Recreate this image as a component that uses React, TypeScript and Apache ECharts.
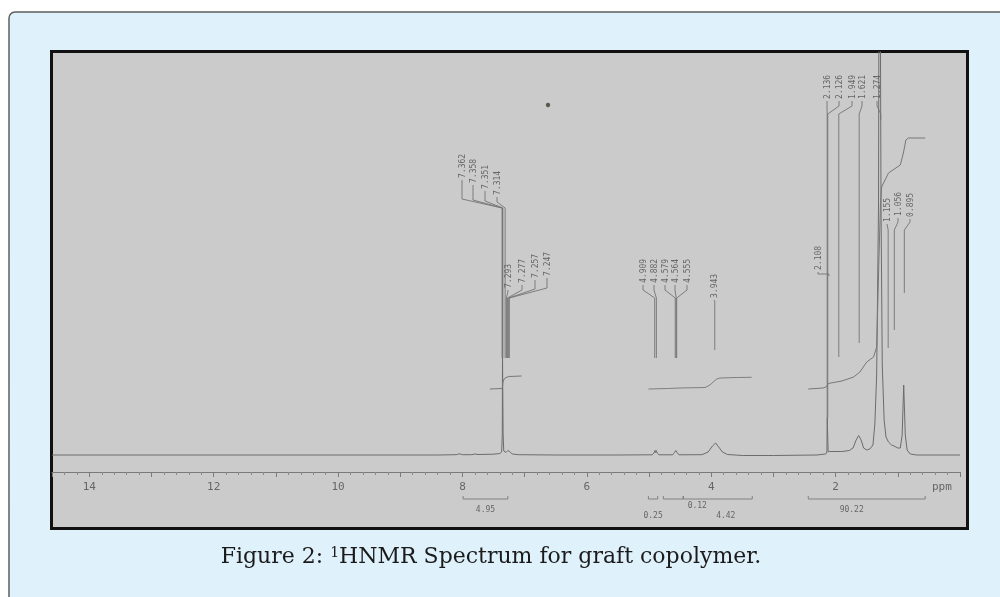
import React, { useEffect, useRef } from 'react';
import * as echarts from 'echarts';

// ---- spectrum trace (ppm, intensity in arbitrary units) ----
const spectrumPpm = [
  14.6, 8.4, 8.1, 8.05, 8.0, 7.85, 7.8, 7.75, 7.5, 7.4, 7.37, 7.36, 7.356, 7.35, 7.346, 7.336,
  7.3, 7.27, 7.24, 7.2, 7.1, 6.5, 5.5, 4.95, 4.92, 4.905, 4.895, 4.885, 4.87, 4.84, 4.62, 4.59,
  4.57, 4.55, 4.52, 4.15, 4.05, 3.98, 3.93, 3.88, 3.82, 3.74, 3.5, 3.0, 2.3, 2.16, 2.14, 2.135,
  2.125, 2.12, 2.1, 1.9, 1.78, 1.72, 1.67, 1.63, 1.59, 1.55, 1.5, 1.45, 1.4, 1.37, 1.34, 1.31,
  1.295, 1.285, 1.27, 1.25, 1.22, 1.19, 1.15, 1.1, 1.06, 1.0, 0.96, 0.93, 0.905, 0.895, 0.88,
  0.85, 0.8, 0.7, 0.0,
];
const spectrumIntensity = [
  0, 0, 0.3, 1.2, 0.3, 0.3, 1, 0.5, 0.8, 1.5, 3, 20, 97, 97, 20, 4,
  2.5, 4.5, 3.5, 1, 0.3, 0, 0, 0.2, 2, 4.5, 2.5, 4.5, 2, 0.2, 0.2, 2.5,
  4.5, 2.5, 0.2, 0.3, 3, 9, 12, 8, 3, 0.5, -0.5, -0.5, 0, 1, 3, 37,
  37, 3, 3.5, 3.5, 4.5, 7, 15, 19.5, 15, 7, 5, 6, 10, 30, 80, 250,
  700, 700, 250, 90, 35, 18, 13, 10, 9, 7, 7, 20, 70, 70, 20,
  5, 1, 0, 0,
];

// ---- integral traces ----
const aromaticIntegralPpm = [7.56, 7.36, 7.35, 7.33, 7.3, 7.25, 7.05];
const aromaticIntegralValue = [66, 66.5, 73, 76, 77.5, 78.5, 79];
const oxyIntegralPpm = [5.01, 4.7, 4.5, 4.1, 4.02, 3.96, 3.91, 3.86, 3.6, 3.35];
const oxyIntegralValue = [66, 66.5, 67, 67.5, 70, 73.5, 76, 77, 77.5, 77.7];
const aliphaticIntegralPpm = [2.44, 2.2, 2.14, 2.12, 1.9, 1.71, 1.61, 1.5, 1.39, 1.34, 1.31, 1.28, 1.26, 1.15, 0.96, 0.91, 0.87, 0.83, 0.56];
const aliphaticIntegralValue = [66, 67, 68.5, 71.5, 74, 78, 83, 93, 98, 108, 180, 250, 268, 282, 290, 302, 315, 317, 317];

// ---- peak pick labels (chemical shifts, ppm) ----
const aromaticUpperShifts = [7.362, 7.358, 7.351, 7.314];
const aromaticLowerShifts = [7.293, 7.277, 7.257, 7.247];
const vinylShifts = [4.909, 4.882, 4.579, 4.564, 4.555];
const oxyShifts = [3.943];
const aliphaticUpperShifts = [2.136, 2.126, 1.949, 1.621, 1.274];
const aliphaticMidShifts = [2.108];
const aliphaticLowerShifts = [1.155, 1.056, 0.895];

// ---- integration values and their ranges (ppm) ----
const integralLabels = ['4.95', '0.25', '0.12', '4.42', '90.22'];
const integralFromPpm = [7.99, 5.01, 4.77, 4.45, 2.44];
const integralToPpm = [7.27, 4.86, 4.45, 3.34, 0.56];

// ---- axis ----
const axisMinPpm = 0;
const axisMaxPpm = 14.6;
const axisLabelPpm = [2, 4, 6, 8, 10, 12, 14];

// layout of the integral value texts (pixel offsets from the bracket centre)
const integralTextOffset = [
  [0, 10], [0, 16], [24, 6], [8, 16], [-15, 10],
];

// layout of the peak-pick label groups (pixels)
const labelLayouts = [
  { shifts: aromaticUpperShifts, slotX: [462, 473, 485, 497], textBottom: [178, 183, 189, 195], knee1: [199, 200, 201, 202], knee2: 208, endY: [358, 358, 358, 358] },
  { shifts: aromaticLowerShifts, slotX: [508, 522, 535, 547], textBottom: [288, 283, 278, 276], knee1: [291, 290, 289, 288], knee2: 298, endY: [358, 358, 358, 358] },
  { shifts: vinylShifts, slotX: [643, 654, 665, 675, 687], textBottom: [283, 283, 283, 283, 283], knee1: [290, 290, 290, 290, 290], knee2: 298, endY: [358, 358, 358, 358, 358] },
  { shifts: oxyShifts, slotX: [714], textBottom: [298], knee1: [300], knee2: 301, endY: [350] },
  { shifts: aliphaticUpperShifts, slotX: [827, 839, 852, 862, 877], textBottom: [99, 99, 99, 99, 99], knee1: [106, 106, 106, 106, 106], knee2: 114, endY: [418, 418, 357, 343, 120] },
  { shifts: aliphaticMidShifts, slotX: [818], textBottom: [270], knee1: [274], knee2: 274, endY: [276] },
  { shifts: aliphaticLowerShifts, slotX: [887, 898, 910], textBottom: [222, 216, 217], knee1: [224, 222, 222], knee2: 230, endY: [348, 330, 293] },
];

type LabelEntry = { ppm: number; text: string; slotX: number; textBottom: number; knee1: number; knee2: number; endY: number };
const labelEntries: LabelEntry[] = [];
labelLayouts.forEach((g) => {
  g.shifts.forEach((s, i) => {
    labelEntries.push({ ppm: s, text: s.toFixed(3), slotX: g.slotX[i], textBottom: g.textBottom[i], knee1: g.knee1[i], knee2: g.knee2, endY: g.endY[i] });
  });
});

const pair = (xs: number[], ys: number[]) => xs.map((x, i) => [x, ys[i]]);

export default function App() {
  const ref = useRef<HTMLDivElement>(null);
  useEffect(() => {
    if (!ref.current) return;
    const chart = echarts.init(ref.current, null, { renderer: 'svg' });
    const lineGray = '#6c6c6c';
    const textGray = '#666666';
    const mono = '"DejaVu Sans Mono", monospace';
    chart.setOption({
      animation: false,
      grid: { left: 52, right: 40, top: 52, bottom: 125, containLabel: false },
      xAxis: {
        type: 'value',
        inverse: true,
        min: axisMinPpm,
        max: axisMaxPpm,
        interval: 1,
        splitLine: { show: false },
        axisLine: { onZero: false, lineStyle: { color: '#7a7a7a', width: 1 } },
        axisTick: { show: true, length: 5, lineStyle: { color: '#7a7a7a' } },
        minorTick: { show: true, splitNumber: 5, length: 3, lineStyle: { color: '#8a8a8a' } },
        minorSplitLine: { show: false },
        axisLabel: {
          margin: 9,
          color: textGray,
          fontFamily: 'DejaVu Sans Mono',
          fontSize: 11,
          formatter: (v: number) => (axisLabelPpm.indexOf(v) >= 0 ? String(v) : ''),
        },
      },
      yAxis: { type: 'value', min: -17, max: 403, show: false },
      graphic: {
        elements: [
          { type: 'rect', z: -10, shape: { x: 9, y: 12, width: 1100, height: 700, r: 6 }, style: { fill: '#dff1fb', stroke: '#5f5f5f', lineWidth: 1.5 } },
          { type: 'rect', z: -9, shape: { x: 51.5, y: 51.5, width: 916, height: 477 }, style: { fill: '#cbcbcb', stroke: '#111111', lineWidth: 3 } },
          { type: 'circle', z: -8, shape: { cx: 548, cy: 105, r: 2.2 }, style: { fill: '#5a5a4a' } },
          { type: 'text', z: 5, x: 932, y: 486, style: { text: 'ppm', font: '11px "DejaVu Sans Mono"', fill: textGray, verticalAlign: 'middle' } },
          {
            type: 'text', z: 5, x: 491, y: 569,
            style: {
              text: '{a|Figure 2: }{s|1}{a|HNMR Spectrum for graft copolymer.}',
              align: 'center', verticalAlign: 'bottom',
              rich: {
                a: { fontFamily: 'DejaVu Serif', fontSize: 22, fill: '#1b1b1b', lineHeight: 28, verticalAlign: 'middle' },
                s: { fontFamily: 'DejaVu Serif', fontSize: 14, fill: '#1b1b1b', lineHeight: 28, verticalAlign: 'top', padding: [4, 0, 0, 0] },
              },
            },
          },
        ],
      },
      series: [
        { type: 'line', name: 'spectrum', data: pair(spectrumPpm, spectrumIntensity), symbol: 'none', clip: true, lineStyle: { color: lineGray, width: 1 }, z: 3 },
        { type: 'line', name: 'integral aromatic', data: pair(aromaticIntegralPpm, aromaticIntegralValue), symbol: 'none', lineStyle: { color: '#777', width: 1 }, z: 3 },
        { type: 'line', name: 'integral oxy', data: pair(oxyIntegralPpm, oxyIntegralValue), symbol: 'none', lineStyle: { color: '#808080', width: 1 }, z: 3 },
        { type: 'line', name: 'integral aliphatic', data: pair(aliphaticIntegralPpm, aliphaticIntegralValue), symbol: 'none', lineStyle: { color: '#777', width: 1 }, z: 3 },
        {
          type: 'custom',
          name: 'peak labels',
          coordinateSystem: 'cartesian2d',
          silent: true,
          z: 4,
          data: labelEntries.map((e) => [e.ppm, 0]),
          encode: { x: 0, y: 1 },
          renderItem: (params: any, api: any) => {
            const e = labelEntries[params.dataIndex];
            const px = api.coord([e.ppm, 0])[0];
            return {
              type: 'group',
              children: [
                { type: 'polyline', shape: { points: [[e.slotX, e.textBottom + 2], [e.slotX, e.knee1], [px, e.knee2], [px, e.endY]] }, style: { stroke: '#747474', lineWidth: 0.9, fill: 'none' } },
                { type: 'text', x: e.slotX, y: e.textBottom, rotation: Math.PI / 2, style: { text: e.text, fill: textGray, font: '8px ' + mono, align: 'left', verticalAlign: 'middle' } },
              ],
            };
          },
        },
        {
          type: 'custom',
          name: 'integrals',
          coordinateSystem: 'cartesian2d',
          silent: true,
          z: 4,
          data: integralLabels.map((_, i) => [integralFromPpm[i], 0]),
          encode: { x: 0, y: 1 },
          renderItem: (params: any, api: any) => {
            const i = params.dataIndex;
            const x1 = api.coord([integralFromPpm[i], 0])[0];
            const x2 = api.coord([integralToPpm[i], 0])[0];
            const y = 499;
            const [dx, dy] = integralTextOffset[i];
            return {
              type: 'group',
              children: [
                { type: 'polyline', shape: { points: [[x1, y - 3], [x1, y], [x2, y], [x2, y - 3]] }, style: { stroke: '#7a7a7a', lineWidth: 0.9, fill: 'none' } },
                { type: 'text', x: (x1 + x2) / 2 + dx, y: y + dy, style: { text: integralLabels[i], fill: textGray, font: '8px ' + mono, align: 'center', verticalAlign: 'middle' } },
              ],
            };
          },
        },
      ],
    });
    return () => chart.dispose();
  }, []);
  return <div ref={ref} style={{ position: 'fixed', left: 0, top: 0, width: 1000, height: 597 }} />;
}
